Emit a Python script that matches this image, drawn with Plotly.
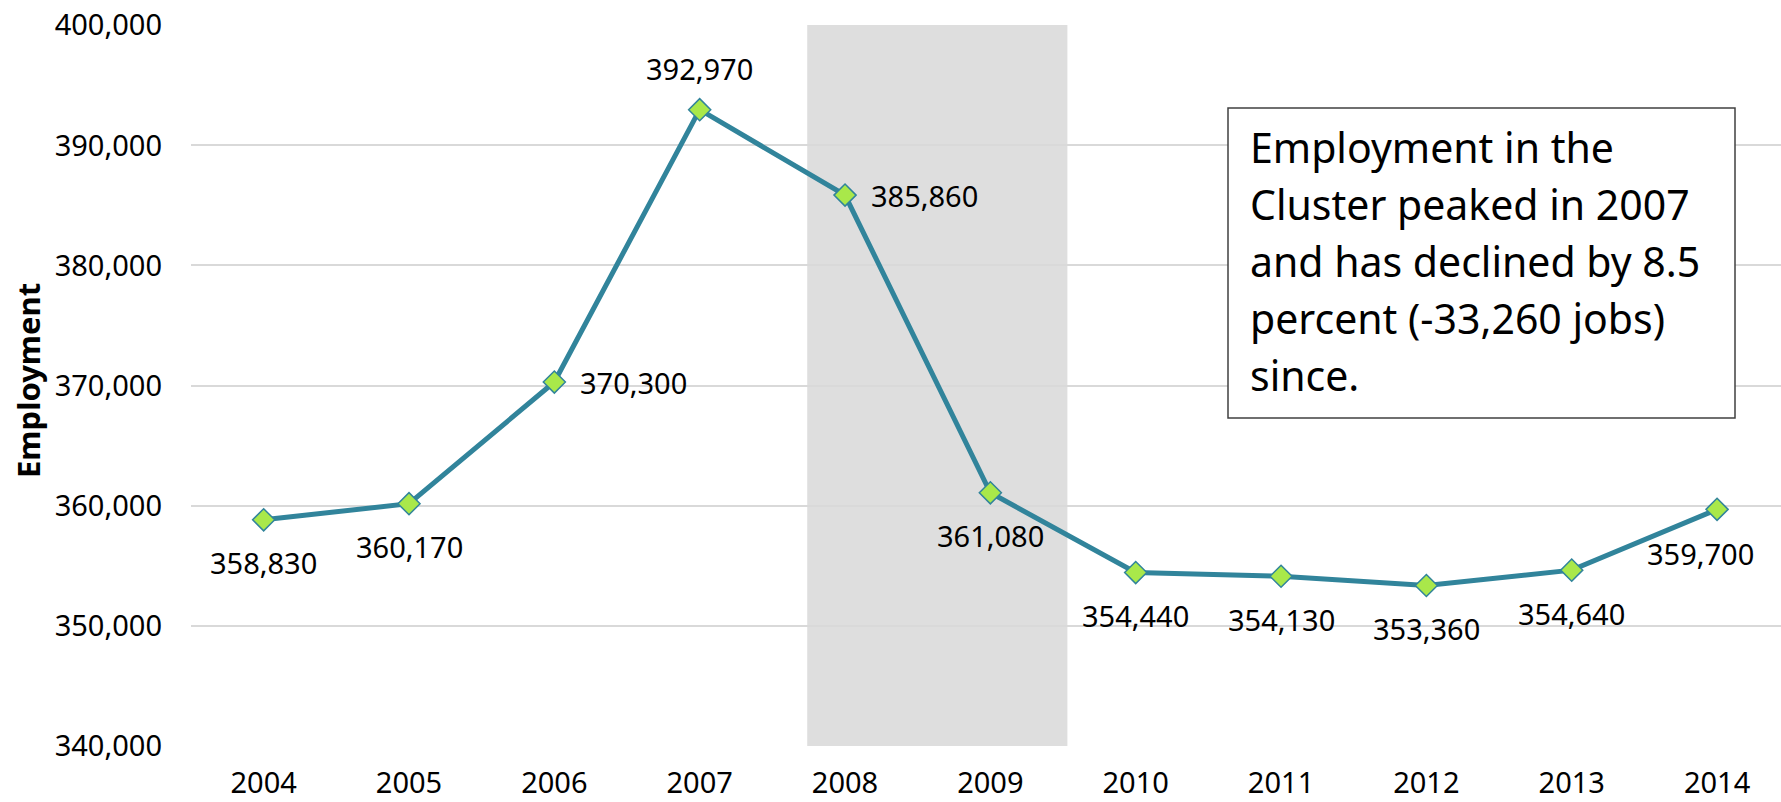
import plotly.graph_objects as go

years = [2004, 2005, 2006, 2007, 2008, 2009, 2010, 2011, 2012, 2013, 2014]
employment = [358830, 360170, 370300, 392970, 385860, 361080, 354440, 354130, 353360, 354640, 359700]
label_pos = ["below", "below", "right", "above", "right", "below", "below", "below", "below", "below", "below-left"]
y_ticks = [340000, 350000, 360000, 370000, 380000, 390000, 400000]
recession_start = 2007.74
recession_end = 2009.53
note_lines = ["Employment in the", "Cluster peaked in 2007", "and has declined by 8.5",
              "percent (-33,260 jobs)", "since."]

# page is 1781x802; the body margin is removed so the figure fills the page
W, H = 1781, 802
L, T = 191, 25
plot_h = 721
B = H - T - plot_h
plot_w = W - L

FONT = "Noto Sans"
LINE = "#31849B"
MARK = "#A9E84A"


def px_x(px):
    return (px - L) / plot_w


def px_y(py):
    return (T + plot_h - py) / plot_h


fig = go.Figure()

fig.add_shape(type="rect", xref="x", yref="paper", x0=recession_start, x1=recession_end,
              y0=0, y1=1, fillcolor="#DEDEDE", line_width=0, layer="below")

fig.add_trace(go.Scatter(
    x=years, y=employment, mode="lines+markers",
    line=dict(color=LINE, width=5),
    marker=dict(symbol="diamond", size=17, color=MARK, line=dict(color=LINE, width=1.5)),
    hoverinfo="skip", showlegend=False,
))

shift = {
    "below": dict(xanchor="center", yanchor="middle", xshift=0, yshift=-43),
    "below-left": dict(xanchor="center", yanchor="middle", xshift=-17, yshift=-44),
    "above": dict(xanchor="center", yanchor="middle", xshift=0, yshift=41),
    "right": dict(xanchor="left", yanchor="middle", xshift=24, yshift=0),
}
for x, y, p in zip(years, employment, label_pos):
    fig.add_annotation(x=x, y=y, xref="x", yref="y", text=f"{y:,}", showarrow=False,
                       font=dict(family=FONT, size=29, color="#000"), **shift[p])

# y-axis title
fig.add_annotation(x=px_x(28), y=px_y(381), xref="paper", yref="paper",
                   text="<b>Employment</b>", textangle=-90, showarrow=False,
                   font=dict(family=FONT, size=31, color="#000"),
                   xanchor="center", yanchor="middle")

# note box
fig.add_shape(type="rect", xref="paper", yref="paper",
              x0=px_x(1228), x1=px_x(1735), y0=px_y(418), y1=px_y(108),
              fillcolor="white", line=dict(color="#404040", width=1.5), layer="above")
for i, t in enumerate(note_lines):
    fig.add_annotation(x=px_x(1248), y=px_y(147 + 57 * i), xref="paper", yref="paper",
                       text=t, showarrow=False, xanchor="left", yanchor="middle",
                       font=dict(family=FONT, size=41, color="#000"))

fig.update_layout(
    width=W, height=H,
    margin=dict(l=L, r=0, t=T, b=B),
    plot_bgcolor="white", paper_bgcolor="white",
    font=dict(family=FONT, size=29, color="#000"),
    xaxis=dict(range=[2003.5, 2014.44], tickmode="array", tickvals=years,
               ticktext=[str(y) for y in years], showgrid=False, zeroline=False,
               showline=False, ticks="", ticklabelstandoff=17, automargin=False,
               ticklabeloverflow="allow", tickfont=dict(family=FONT, size=29)),
    yaxis=dict(range=[340000, 400020], tickmode="array", tickvals=y_ticks,
               ticktext=[f"{v:,}" for v in y_ticks], showgrid=True,
               gridcolor="#D9D9D9", gridwidth=1.5, zeroline=False, showline=False,
               ticks="", ticklabelstandoff=28, automargin=False,
               ticklabeloverflow="allow", tickfont=dict(family=FONT, size=29)),
)

fig.write_html("out.html", config={"displayModeBar": False},
               post_script="document.body.style.margin='0';document.body.style.overflow='hidden';")
